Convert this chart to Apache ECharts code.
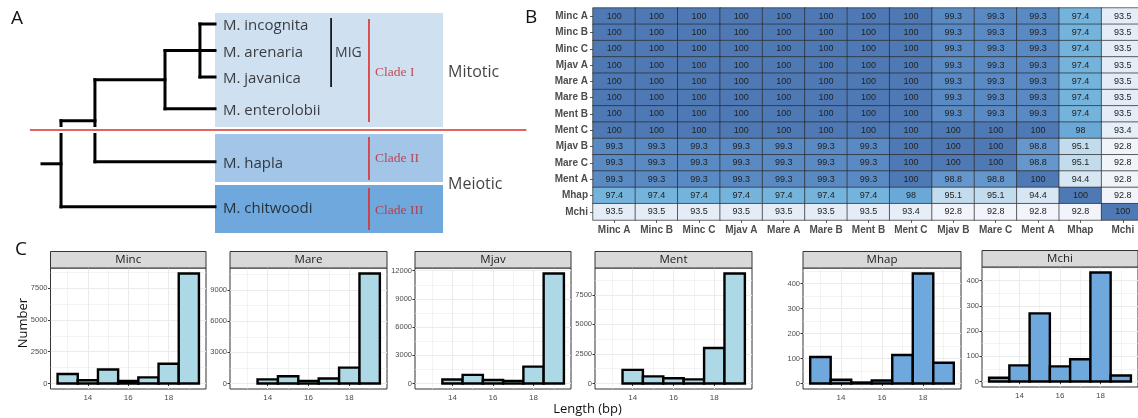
<!DOCTYPE html>
<html><head><meta charset="utf-8">
<script src="https://cdn.jsdelivr.net/npm/echarts@6/dist/echarts.min.js"></script>
<style>html,body{margin:0;padding:0;background:#fff}#c{width:1138px;height:418px}</style>
</head><body><div id="c"></div>
<script>
// ---------- Panel A: tree ----------
const leafNames = ['M. incognita', 'M. arenaria', 'M. javanica', 'M. enterolobii', 'M. hapla', 'M. chitwoodi'];
const leafRows = [0, 1, 2, 3.2, 5.2, 6.9];
const leafDepth = 1;
const rootStubDepth = 0;
// nested topology with node depths (tree units)
const treeTopology = {depth: 0.11, children: [{depth: 0.306, children: [{depth: 0.711, children: [{depth: 0.913, children: [0, 1, 2]}, 3]}, 4]}, 5]};
const cladeNames = ['Clade I', 'Clade II', 'Clade III'];
const cladeRowSpans = [[-0.415, 3.887], [4.15, 5.96], [6.075, 7.89]];
const cladeBarSpans = [[-0.19, 3.70], [4.26, 5.89], [6.19, 7.77]];
const cladeLabelRows = [1.81, 5.09, 7.02];
const migSpan = [-0.23, 2.38];
const modeNames = ['Mitotic', 'Meiotic'];
const modeRows = [1.81, 6.04];
const separatorRow = 4.0;

// ---------- Panel B: identity heatmap ----------
const heatLabels = ['Minc A', 'Minc B', 'Minc C', 'Mjav A', 'Mare A', 'Mare B', 'Ment B', 'Ment C', 'Mjav B', 'Mare C', 'Ment A', 'Mhap', 'Mchi'];
const rowMincA = [100, 100, 100, 100, 100, 100, 100, 100, 99.3, 99.3, 99.3, 97.4, 93.5];
const rowMincB = [100, 100, 100, 100, 100, 100, 100, 100, 99.3, 99.3, 99.3, 97.4, 93.5];
const rowMincC = [100, 100, 100, 100, 100, 100, 100, 100, 99.3, 99.3, 99.3, 97.4, 93.5];
const rowMjavA = [100, 100, 100, 100, 100, 100, 100, 100, 99.3, 99.3, 99.3, 97.4, 93.5];
const rowMareA = [100, 100, 100, 100, 100, 100, 100, 100, 99.3, 99.3, 99.3, 97.4, 93.5];
const rowMareB = [100, 100, 100, 100, 100, 100, 100, 100, 99.3, 99.3, 99.3, 97.4, 93.5];
const rowMentB = [100, 100, 100, 100, 100, 100, 100, 100, 99.3, 99.3, 99.3, 97.4, 93.5];
const rowMentC = [100, 100, 100, 100, 100, 100, 100, 100, 100, 100, 100, 98, 93.4];
const rowMjavB = [99.3, 99.3, 99.3, 99.3, 99.3, 99.3, 99.3, 100, 100, 100, 98.8, 95.1, 92.8];
const rowMareC = [99.3, 99.3, 99.3, 99.3, 99.3, 99.3, 99.3, 100, 100, 100, 98.8, 95.1, 92.8];
const rowMentA = [99.3, 99.3, 99.3, 99.3, 99.3, 99.3, 99.3, 100, 98.8, 98.8, 100, 94.4, 92.8];
const rowMhap = [97.4, 97.4, 97.4, 97.4, 97.4, 97.4, 97.4, 98, 95.1, 95.1, 94.4, 100, 92.8];
const rowMchi = [93.5, 93.5, 93.5, 93.5, 93.5, 93.5, 93.5, 93.4, 92.8, 92.8, 92.8, 92.8, 100];
const heatRows = [rowMincA, rowMincB, rowMincC, rowMjavA, rowMareA, rowMareB, rowMentB, rowMentC, rowMjavB, rowMareC, rowMentA, rowMhap, rowMchi];

// ---------- Panel C: length histograms ----------
const lengthBins = [13, 14, 15, 16, 17, 18, 19];
const mincCounts = [750, 250, 1100, 200, 480, 1550, 8650];
const mareCounts = [null, 400, 700, 250, 480, 1530, 10600];
const mjavCounts = [null, 420, 920, 380, 280, 1800, 11700];
const mentCounts = [null, 1150, 600, 450, 350, 3000, 9300];
const mhapCounts = [106, 15, 4, 12, 114, 440, 83];
const mchiCounts = [15, 64, 270, 60, 88, 432, 24];
const facetNames = ['Minc', 'Mare', 'Mjav', 'Ment', 'Mhap', 'Mchi'];
const xTickLabels = [14, 16, 18];
const xMinorBreaks = [13, 15, 17, 19];
const mincTicks = [0, 2500, 5000, 7500];
const mareTicks = [0, 3000, 6000, 9000];
const mjavTicks = [0, 3000, 6000, 9000, 12000];
const mentTicks = [0, 2500, 5000, 7500];
const mhapTicks = [0, 100, 200, 300, 400];
const mchiTicks = [0, 100, 200, 300, 400];
const mincMinor = [1250, 3750, 6250, 8750];
const mareMinor = [1500, 4500, 7500, 10500];
const mjavMinor = [1500, 4500, 7500, 10500];
const mentMinor = [1250, 3750, 6250, 8750];
const mhapMinor = [50, 150, 250, 350, 450];
const mchiMinor = [50, 150, 250, 350, 450];

// ---------- layout / style (not data) ----------
const TX0 = 42, TXU = 173, TY0 = 24, TYU = 26.5;
const treeXRange = [-0.1, 2.8], treeYRange = [-0.5, 8];
const cladeBoxX = [1.0, 2.318];
const cladeColors = ['#cfe0f1', '#a3c5e8', '#6fa8dc'];
const redColor = '#d9302c';
const cladeTextColor = '#c1272d';
const heatBox = {left: 593, top: 8, width: 551, height: 212};
const facetBoxes = [[50.5, 268, 155.5, 121], [230, 268, 157, 121], [415, 268, 156, 121], [595, 268, 157, 121], [803, 268, 158, 121], [982, 267, 156, 120]];
const stripH = 16.5;
const lightFill = '#add8e6', darkFill = '#6fa8dc';
const facetCounts = [mincCounts, mareCounts, mjavCounts, mentCounts, mhapCounts, mchiCounts];
const facetTicks = [mincTicks, mareTicks, mjavTicks, mentTicks, mhapTicks, mchiTicks];
const facetMinor = [mincMinor, mareMinor, mjavMinor, mentMinor, mhapMinor, mchiMinor];
const facetFills = [lightFill, lightFill, lightFill, lightFill, darkFill, darkFill];
const xRange = [12.15, 19.85];

const chart = echarts.init(document.getElementById('c'), null, {renderer: 'canvas', width: 1138, height: 418});

// tree segments from topology
const treeSegs = [];
function layoutNode(node, parentDepth) {
  if (typeof node === 'number') {
    const y = leafRows[node];
    treeSegs.push([parentDepth, y, leafDepth, y]);
    return y;
  }
  const ys = node.children.map(ch => layoutNode(ch, node.depth));
  const y0 = Math.min(...ys), y1 = Math.max(...ys);
  const y = (y0 + y1) / 2;
  treeSegs.push([node.depth, y0, node.depth, y1]);
  treeSegs.push([parentDepth, y, node.depth, y]);
  return y;
}
layoutNode(treeTopology, rootStubDepth);

function segSeries(data, stroke, width, z, cap) {
  return {
    type: 'custom', xAxisIndex: 0, yAxisIndex: 0, z: z, silent: true,
    data: data,
    renderItem: function (params, api) {
      const a = api.coord([api.value(0), api.value(1)]);
      const b = api.coord([api.value(2), api.value(3)]);
      return {type: 'line', shape: {x1: a[0], y1: a[1], x2: b[0], y2: b[1]},
        style: {stroke: stroke, lineWidth: width, lineCap: cap || 'butt'}};
    }
  };
}

const grids = [];
const xAxes = [];
const yAxes = [];
const series = [];
const graphics = [];

// grid 0: tree
grids.push({left: TX0 + treeXRange[0] * TXU, width: (treeXRange[1] - treeXRange[0]) * TXU,
  top: TY0 + treeYRange[0] * TYU, height: (treeYRange[1] - treeYRange[0]) * TYU, outerBoundsMode: 'none'});
xAxes.push({gridIndex: 0, type: 'value', min: treeXRange[0], max: treeXRange[1], show: false});
yAxes.push({gridIndex: 0, type: 'value', min: treeYRange[0], max: treeYRange[1], inverse: true, show: false});

series.push({
  type: 'custom', xAxisIndex: 0, yAxisIndex: 0, z: 1, silent: true,
  data: cladeRowSpans.map((s, i) => [cladeBoxX[0], s[0], cladeBoxX[1], s[1], i]),
  renderItem: function (params, api) {
    const a = api.coord([api.value(0), api.value(1)]);
    const b = api.coord([api.value(2), api.value(3)]);
    return {type: 'rect', shape: {x: a[0], y: a[1], width: b[0] - a[0], height: b[1] - a[1]},
      style: {fill: cladeColors[api.value(4)]}};
  }
});
series.push(segSeries(treeSegs, '#000', 3, 2, 'square'));
series.push(segSeries([[treeXRange[0] + 0.03, separatorRow, treeXRange[1], separatorRow]], '#fff', 6, 3));
series.push(segSeries([[treeXRange[0] + 0.03, separatorRow, treeXRange[1], separatorRow]], redColor, 1.6, 4));
series.push(segSeries(cladeBarSpans.map(s => [1.89, s[0], 1.89, s[1]]), redColor, 1.6, 4));
series.push(segSeries([[1.671, migSpan[0], 1.671, migSpan[1]]], '#000', 1.6, 4));

series.push({
  type: 'scatter', xAxisIndex: 0, yAxisIndex: 0, z: 5, silent: true, symbolSize: 0,
  data: leafNames.map((n, i) => ({value: [leafDepth, leafRows[i]], name: n})),
  label: {show: true, position: 'right', distance: 8, offset: [0, 2], formatter: p => p.name,
    fontFamily: 'Open Sans', fontSize: 15, color: '#111'}
});
const annot = [];
annot.push({value: [1.694, 1.094], name: 'MIG', label: {fontFamily: 'Open Sans', fontSize: 14, color: '#111'}});
cladeNames.forEach((n, i) => annot.push({value: [1.925, cladeLabelRows[i]], name: n,
  label: {fontFamily: 'Liberation Serif', fontSize: 13.5, color: cladeTextColor}}));
modeNames.forEach((n, i) => annot.push({value: [2.347, modeRows[i]], name: n,
  label: {fontFamily: 'Open Sans', fontSize: 16, color: '#111'}}));
series.push({
  type: 'scatter', xAxisIndex: 0, yAxisIndex: 0, z: 5, silent: true, symbolSize: 0,
  data: annot,
  label: {show: true, position: 'right', distance: 0, formatter: p => p.name}
});

// grid 1: heatmap
grids.push(Object.assign({outerBoundsMode: 'none'}, heatBox));
xAxes.push({gridIndex: 1, type: 'category', data: heatLabels,
  axisLine: {show: false}, splitLine: {show: false},
  axisTick: {show: true, alignWithLabel: true, length: 3, lineStyle: {color: '#333', width: 0.8}},
  axisLabel: {fontFamily: 'Liberation Sans', fontWeight: 'bold', fontSize: 10, color: '#4d4d4d', margin: 5, interval: 0}});
yAxes.push({gridIndex: 1, type: 'category', data: heatLabels, inverse: true,
  axisLine: {show: false}, splitLine: {show: false},
  axisTick: {show: true, alignWithLabel: true, length: 3, lineStyle: {color: '#333', width: 0.8}},
  axisLabel: {fontFamily: 'Liberation Sans', fontWeight: 'bold', fontSize: 10, color: '#4d4d4d', margin: 5, interval: 0}});
const heatData = [];
heatRows.forEach((row, r) => row.forEach((v, c) => heatData.push([c, r, v])));
const heatSeriesIndex = series.length;
series.push({
  type: 'heatmap', xAxisIndex: 1, yAxisIndex: 1, data: heatData, silent: true,
  itemStyle: {borderColor: '#2a2a2a', borderWidth: 0.7},
  label: {show: true, formatter: p => String(p.value[2]), fontFamily: 'Liberation Sans', fontSize: 9, color: '#222'},
  emphasis: {disabled: true}
});

// histograms
facetNames.forEach((name, i) => {
  const gi = grids.length;
  const [l, t, w, h] = facetBoxes[i];
  const counts = facetCounts[i];
  const maxV = Math.max(...counts.filter(v => v != null));
  const yMin = -0.05 * maxV, yMax = 1.05 * maxV;
  grids.push({left: l, top: t, width: w, height: h, show: true, backgroundColor: '#fff',
    borderColor: '#333', borderWidth: 1, outerBoundsMode: 'none'});
  const xi = xAxes.length;
  xAxes.push({gridIndex: gi, type: 'value', min: xRange[0], max: xRange[1], position: 'bottom',
    axisLine: {show: false},
    axisTick: {show: true, customValues: xTickLabels, length: 2.5, lineStyle: {color: '#333', width: 1}},
    axisLabel: {customValues: xTickLabels, formatter: v => String(v), fontFamily: 'Liberation Sans', fontSize: 8, color: '#4d4d4d', margin: 5},
    splitLine: {show: true, lineStyle: {color: '#ebebeb', width: 1}}});
  xAxes.push({gridIndex: gi, type: 'value', min: xRange[0], max: xRange[1], position: 'top',
    axisLine: {show: false}, axisTick: {show: false, customValues: xMinorBreaks}, axisLabel: {show: false},
    splitLine: {show: true, lineStyle: {color: '#ebebeb', width: 0.6}}});
  const yi = yAxes.length;
  yAxes.push({gridIndex: gi, type: 'value', min: yMin, max: yMax, position: 'left',
    axisLine: {show: false},
    axisTick: {show: true, customValues: facetTicks[i], length: 2.5, lineStyle: {color: '#333', width: 1}},
    axisLabel: {customValues: facetTicks[i], formatter: v => String(v), fontFamily: 'Liberation Sans', fontSize: 7.5, color: '#4d4d4d', margin: 3},
    splitLine: {show: true, lineStyle: {color: '#ebebeb', width: 1}}});
  yAxes.push({gridIndex: gi, type: 'value', min: yMin, max: yMax, position: 'right',
    axisLine: {show: false}, axisTick: {show: false, customValues: facetMinor[i]}, axisLabel: {show: false},
    splitLine: {show: true, lineStyle: {color: '#ebebeb', width: 0.6}}});
  const fill = facetFills[i];
  series.push({
    type: 'custom', xAxisIndex: xi, yAxisIndex: yi, silent: true, z: 3,
    data: lengthBins.map((b, k) => [b, counts[k]]).filter(d => d[1] != null),
    renderItem: function (params, api) {
      const x = api.value(0), y = api.value(1);
      const a = api.coord([x - 0.5, y]);
      const b = api.coord([x + 0.5, 0]);
      return {type: 'rect', shape: {x: a[0], y: a[1], width: b[0] - a[0], height: b[1] - a[1]},
        style: {fill: fill, stroke: '#000', lineWidth: 2.4}};
    }
  });
  // strip
  graphics.push({type: 'rect', shape: {x: l, y: t - stripH, width: w, height: stripH},
    style: {fill: '#d9d9d9', stroke: '#333', lineWidth: 1}, z: 10});
  graphics.push({type: 'text', x: l + w / 2, y: t - stripH / 2,
    style: {text: name, fontFamily: 'Open Sans', fontSize: 11.5, fill: '#1a1a1a', align: 'center', verticalAlign: 'middle'}, z: 11});
});

// panel letters and axis titles
graphics.push({type: 'text', x: 11, y: 18.5, style: {text: 'A', fontFamily: 'Open Sans', fontSize: 19, fill: '#111', align: 'left', verticalAlign: 'middle'}});
graphics.push({type: 'text', x: 525, y: 17.5, style: {text: 'B', fontFamily: 'Open Sans', fontSize: 19, fill: '#111', align: 'left', verticalAlign: 'middle'}});
graphics.push({type: 'text', x: 15, y: 250, style: {text: 'C', fontFamily: 'Open Sans', fontSize: 19, fill: '#111', align: 'left', verticalAlign: 'middle'}});
graphics.push({type: 'text', x: 23, y: 323, rotation: Math.PI / 2,
  style: {text: 'Number', fontFamily: 'Open Sans', fontSize: 13, fill: '#111', align: 'center', verticalAlign: 'middle'}});
graphics.push({type: 'text', x: 587.5, y: 409,
  style: {text: 'Length (bp)', fontFamily: 'Open Sans', fontSize: 13, fill: '#111', align: 'center', verticalAlign: 'middle'}});

const option = {
  animation: false,
  backgroundColor: '#fff',
  grid: grids,
  xAxis: xAxes,
  yAxis: yAxes,
  visualMap: {
    type: 'piecewise', show: false, seriesIndex: heatSeriesIndex, dimension: 2,
    pieces: [
      {gte: 99.65, color: '#4e79b5'},
      {gte: 99.05, lt: 99.65, color: '#5a8ac4'},
      {gte: 98.4, lt: 99.05, color: '#6597cd'},
      {gte: 97.7, lt: 98.4, color: '#6aa9d7'},
      {gte: 96, lt: 97.7, color: '#74b3dc'},
      {gte: 94.8, lt: 96, color: '#c3dced'},
      {gte: 94, lt: 94.8, color: '#d6e6f3'},
      {gte: 93.45, lt: 94, color: '#e4ecf7'},
      {gte: 93.1, lt: 93.45, color: '#e7eef8'},
      {lt: 93.1, color: '#f1f4fb'}
    ]
  },
  series: series,
  graphic: graphics
};
chart.setOption(option);
</script></body></html>
